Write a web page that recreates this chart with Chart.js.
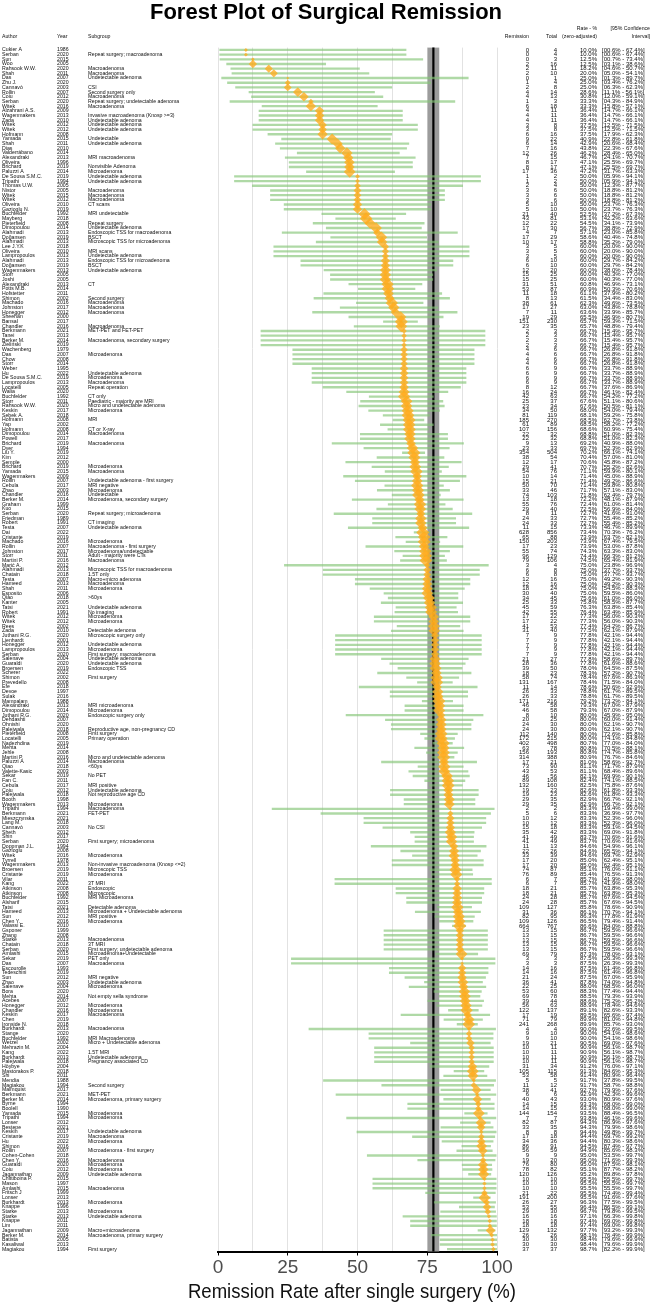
<!DOCTYPE html>
<html>
<head>
<meta charset="utf-8">
<script src="https://cdn.jsdelivr.net/npm/chart.js@4.4.0/dist/chart.umd.min.js"></script>
<style>
  html, body { margin: 0; padding: 0; background: #fff; }
  #wrap { width: 652px; height: 1305px; position: relative; }
</style>
</head>
<body>
<div id="wrap"><canvas id="forest"></canvas></div>
<script>
// ---- data, one entry per study row (top to bottom) ----
const authors = [
  'Cukier A','Serban','Sun','Woo','Rahsook W.W.','Shah','Das','Zhu J.','Cannavò','Rollin',
  'Coiu','Serban','Witek','Alzahrani A.S.','Wagenmakers','Zada','Witek','Witek','Hofmann','Yamada',
  'Shah','Dias','Valderrábano','Alexandraki','Oliveira','Brichard','Paluzzi A','De Sousa S.M.C.','Tripathi','Thomas U.W.',
  'Nistor','Witek','Witek','Oliveira','Gazioglu N.','Buchfelder','Mayberg','Pieterfield','Dimopoulou','Alahmadi',
  'Doğansen','Alahmadi','Lee J.Y.K','Oliveira','Lampropoulos','Alahmadi','Doğansen','Wagenmakers','Storr','Joshi',
  'Alexandraki','Potts M.B.','Hofstetter','Shimon','Machado','Johnston','Honegger','Sheehan','Bansal','Chandler',
  'Berkmann','Tanei','Berker M.','Zieliński','Wachenberg','Das','Chow','Storr','Weber','Hu',
  'De Sousa S.M.C.','Lampropoulos','Locatelli','Walia','Buchfelder','Storr','Rahsook W.W.','Keskin','Sebek A.','Hofmann',
  'Yap','Hofmann','Dimopoulou','Powell','Brichard','Dyer','Liu Y.','Kim','Semple','Brichard',
  'Yamada','Wagenmakers','Rollin','Cebula','Zhao','Chandler','Berker M.','Graham','Kuo','Serban',
  'Friedman','Robert','Testa','Dai','Cristante','Machado','Rollin','Johnston','Storr','Martini P.',
  'Marić A.','Alahmadi','Chatain','Testa','Hameed','Shah','Esposito','Qiao','Kanter','Tatsi',
  'Robert','Witek','Witek','Rees','Zada','Juthani R.G.','Lienhardt','Honegger','Lampropoulos','Serban',
  'Salenave','Guaraldi','Broersen','Scherer','Shimon','Prevedello','Efe','Devoe','Sulak','Mampalam',
  'Alexandraki','Dimopoulou','Juthani R.G.','Dehdashti','Ohnishi','Palejwala','Pieterfield','Locatelli','Nadezhdina','Mehta',
  'Jehle','Martini P.','Paluzzi A','Qiao','Valette-Kasic','Sekar','Fan C.','Cebula','Coiu','Palejwala',
  'Booth','Wagenmakers','Tripathi','Berkmann','Mieszczynska','Lang M.','Cannavò','Sheth','Shin','Serban',
  'Doppman J.L.','Gazioglu','Witek','Tyrrell','Wagenmakers','Broersen','Cristante','Vilar','Kang','Atkinson',
  'Atkinson','Buchfelder','Alsharif','Tatsi','Hameed','Sun','Chen Y.','Valassi E.','Gsponer','Zhang',
  'Starke','Chatain','Serban','Amlashi','Sekar','Das','Escourolle','Tedeschini','Sun','Zhao',
  'Salenave','Bora','Mehta','Acebes','Honegger','Chandler','Keskin','Chen','Ironside N.','Burkhardt',
  'Stange','Buchfelder','Wetzel','Mehrazin M.','Kang','Burkhardt','Palejwala','Höybye','Mastorakos P.','Shi',
  'Mendia','Magiakou','Malmquist','Berkmann','Berker M.','Byrne','Boolell','Yamada','Tripathi','Lonser',
  'Bestepe','Keskin','Cristante','Hu','Shimon','Rollin','Cohen-Cohen','Chen Y.','Guaraldi','Coiu',
  'Jagannathan','Chittiboina P.','Mason','Amlashi','Fritsch J','Lonser','Burkhardt','Knappe','Starke','Starke',
  'Knappe','Lim','Jagannathan','Berker M.','Batista','Kasaliwal','Magiakou'
]

const years = [
  1986,2020,2015,2005,2020,2011,2007,2020,2003,2007,
  2012,2020,2016,2009,2013,2010,2012,2012,2008,2015,
  2011,2010,2014,2013,1996,2019,2014,2019,1994,2005,
  2005,2015,2012,2010,2019,1992,2018,2008,2014,2013,
  2019,2013,2018,2010,2013,2013,2019,2013,2005,2005,
  2013,2014,2011,2002,2016,2017,2012,2000,2017,2016,
  2021,2013,2014,2019,1979,2007,2008,2014,1995,2022,
  2019,2013,2005,2020,1992,2011,2020,2017,2018,2008,
  2002,2008,2014,2017,2019,1994,2019,2012,2000,2019,
  2015,2009,2007,2017,2003,2016,2014,1999,2015,2020,
  1989,1991,2007,2022,2019,2016,2007,2017,2011,2016,
  2012,2013,2018,2007,2013,2011,2006,2018,2005,2021,
  1991,2012,2012,2002,2010,2020,2001,2012,2013,2020,
  2004,2020,2019,2022,2002,2008,2018,1997,2016,1988,
  2013,2014,2020,2007,2020,2018,2008,2005,2019,2014,
  2008,2016,2014,2018,2003,2019,2011,2017,2012,2018,
  1998,2013,1994,2021,2021,2018,2003,2012,2017,2020,
  1994,2008,2016,1978,2013,2019,2019,2011,2022,2008,
  2008,1992,2015,2021,2013,2012,2016,2010,1999,2008,
  2013,2018,2020,2015,2019,2007,1993,2019,2012,2003,
  2004,2020,2014,2007,2012,2016,2017,2019,2018,2013,
  2020,1992,2002,2004,2022,2013,2018,2004,2018,2011,
  1988,1994,2017,2021,2014,1994,1990,2015,1994,2012,
  2021,2017,2019,2022,2016,2007,2018,2016,2020,2012,
  2009,2015,1997,2015,1999,2013,2013,1996,2013,2013,
  2011,2011,2009,2014,2005,2013,1994
]

const subgroups = [
  '','Repeat surgery; macroadenoma','','','Macroadenoma','Macroadenoma','Undetectable adenoma','','CSI','Second surgery only',
  'Macroadenoma','Repeat surgery; undetectable adenoma','Macroadenoma','','Invasive macroadenoma (Knosp >=3)','Undetectable adenoma','Undetectable adenoma','Undetectable adenoma','','Undetectable',
  'Undetectable adenoma','','','MRI macroadenoma','','Nonvisible Adenoma','Microadenoma','Undetectable adenoma','Undetectable adenoma','',
  'Macroadenoma','Macroadenoma','Macroadenoma','CT scans','','MRI undetectable','','Repeat surgery','Undetectable adenoma','Endoscopic TSS for macroadenoma',
  'BSCT','Microscopic TSS for microadenoma','','MRI scans','Undetectable adenoma','Endoscopic TSS for microadenoma','BSCT','Undetectable adenoma','','',
  'CT','','','Second surgery','Macroadenoma','Macroadenoma','Macroadenoma','','','Macroadenoma',
  'MET-PET and FET-PET','','Macroadenoma, secondary surgery','','','Microadenoma','','','','Undetectable adenoma',
  'Microadenoma','Macroadenoma','Repeat operation','','CT only','Paediatric - majority are MRI','Micro and undetectable adenoma','Microadenoma','','MRI',
  '','CT or X-ray','Macroadenoma','','Macroadenoma','','','','','Microadenoma',
  'Macroadenoma','','Undetectable adenoma - first surgery','MRI negative','Microadenoma','Undetectable','Microadenoma, secondary surgery','','','Repeat surgery; microadenoma',
  '','CT imaging','Undetectable adenoma','','','Microadenoma','Macroadenoma - first surgery','Microadenoma/undetectable','Adult - majority were CTs','Macroadenoma',
  '','Microscopic TSS for macroadenoma','1.5T only','Macro+micro adenoma','Macroadenoma','Microadenoma','','>60ys','','Undetectable adenoma',
  'No imaging','Microadenoma','Microadenoma','','Detectable adenoma','Microscopic surgery only','','Undetectable adenoma','Microadenoma','First surgery; macroadenoma',
  'Undetectable adenoma','Undetectable adenoma','Endoscopic TSS','','First surgery','','','','','',
  'MRI microadenoma','Microadenoma','Endoscopic surgery only','','','Reproductive age, non-pregnancy CD','First surgery','Primary operation','','',
  '','Micro and undetectable adenoma','Macroadenoma','<60ys','','No PET','','MRI positive','Undetectable adenoma','Not reproductive age CD',
  '','Microadenoma','Macroadenoma','FET-PET','','','No CSI','','','First surgery; microadenoma',
  '','','Microadenoma','','Non-invasive macroadenoma (Knosp <=2)','Microscopic TSS','Microadenoma','','3T MRI','Endoscopic',
  'Microscopic','MRI Microadenoma','','Detectable adenoma','Microadenoma + Undetectable adenoma','MRI positive','Microadenoma','','','',
  'Macroadenoma','3T MRI','First surgery; undetectable adenoma','Microadenoma+Undetectable','PET only','Macroadenoma','','','MRI negative','Undetectable adenoma',
  'Microadenoma','','Not empty sella syndrome','','Microadenoma','Microadenoma','Macroadenoma','','','Macroadenoma',
  '','MRI Macroadenoma','Micro + Undetectable adenoma','','1.5T MRI','Undetectable adenoma','Pregnancy associated CD','','','',
  '','Second surgery','','MET-PET','Microadenoma, primary surgery','','','Microadenoma','Microadenoma','',
  '','Undetectable adenoma','Macroadenoma','Microadenoma','','Microadenoma - first surgery','','Macroadenoma','Microadenoma','Microadenoma',
  'Undetectable adenoma','','','Macroadenoma','','','Microadenoma','','Microadenoma','Undetectable adenoma',
  '','','Macro+microadenoma','Macroadenoma, primary surgery','','','First surgery'
]

const remissions = [
  0,0,0,2,2,2,0,1,2,4,
  4,1,6,4,4,4,3,3,6,9,
  6,7,12,7,8,8,17,1,1,2,
  3,3,3,5,5,21,43,12,17,4,
  17,10,3,3,3,6,6,12,15,15,
  31,53,11,8,38,17,7,19,151,23,
  2,2,2,2,4,4,4,4,6,6,
  6,6,8,16,42,25,23,34,81,185,
  61,107,22,22,9,23,354,38,12,29,
  54,10,15,50,33,74,13,55,29,8,
  24,24,11,628,65,150,17,55,96,79,
  3,6,6,12,12,18,30,34,25,45,
  42,17,17,41,31,7,7,7,7,7,
  21,28,39,18,58,131,11,26,26,171,
  46,46,8,20,24,24,112,172,402,63,
  156,314,17,73,43,46,89,132,19,19,
  29,29,2,5,10,10,15,35,41,41,
  11,22,33,17,17,74,76,6,6,18,
  18,24,24,109,31,82,109,664,13,13,
  13,13,13,69,3,3,14,14,21,36,
  22,53,69,39,56,122,17,71,241,4,
  9,9,19,10,10,10,10,31,105,53,
  5,11,38,6,40,14,14,144,7,82,
  33,8,17,34,86,56,9,19,76,78,
  120,10,10,10,21,191,26,53,29,16,
  18,18,129,26,30,30,37
]

const totals = [
  4,4,3,16,11,10,1,4,8,14,
  13,3,18,11,11,11,8,8,16,22,
  14,16,26,15,17,17,36,2,2,4,
  6,6,6,10,10,40,81,22,30,7,
  29,17,5,5,5,10,10,20,25,25,
  51,87,18,13,61,27,11,29,230,35,
  3,3,3,3,6,6,6,6,9,9,
  9,9,12,24,63,37,34,50,119,270,
  89,156,32,32,13,33,504,54,17,41,
  76,14,21,70,46,103,18,76,40,11,
  33,33,15,856,88,203,23,74,129,106,
  4,8,8,16,16,24,40,45,33,59,
  55,22,22,53,40,9,9,9,9,9,
  27,36,50,23,74,167,14,33,33,216,
  58,58,10,25,30,30,140,215,498,78,
  193,388,21,90,53,56,108,160,23,23,
  35,35,2,6,12,12,18,42,49,49,
  13,26,39,20,20,87,89,7,7,21,
  21,28,28,127,36,95,126,767,15,15,
  15,15,15,79,3,3,16,16,24,41,
  25,60,78,44,63,137,19,79,268,4,
  10,10,21,11,11,11,11,34,115,58,
  5,12,41,6,43,15,15,154,7,87,
  35,8,18,36,91,59,9,20,80,82,
  126,10,10,10,22,200,27,55,30,16,
  18,18,132,26,30,30,37
]

// rate in %, zero-adjusted where remission is 0 or all
const rates = [
  10.0,10.0,12.5,12.5,18.2,20.0,25.0,25.0,25.0,28.6,
  30.8,33.3,33.3,36.4,36.4,36.4,37.5,37.5,37.5,40.9,
  42.9,43.8,46.2,46.7,47.1,47.1,47.2,50.0,50.0,50.0,
  50.0,50.0,50.0,50.0,50.0,52.5,53.1,54.5,56.7,57.1,
  58.6,58.8,60.0,60.0,60.0,60.0,60.0,60.0,60.0,60.0,
  60.8,60.9,61.1,61.5,62.3,63.0,63.6,65.5,65.7,65.7,
  66.7,66.7,66.7,66.7,66.7,66.7,66.7,66.7,66.7,66.7,
  66.7,66.7,66.7,66.7,66.7,67.6,67.6,68.0,68.1,68.5,
  68.5,68.6,68.8,68.8,69.2,69.7,70.2,70.4,70.6,70.7,
  71.1,71.4,71.4,71.4,71.7,71.8,72.2,72.4,72.5,72.7,
  72.7,72.7,73.3,73.4,73.9,73.9,73.9,74.3,74.4,74.5,
  75.0,75.0,75.0,75.0,75.0,75.0,75.0,75.6,75.8,76.3,
  76.4,77.3,77.3,77.4,77.5,77.8,77.8,77.8,77.8,77.8,
  77.8,77.8,78.0,78.3,78.4,78.4,78.6,78.8,78.8,79.2,
  79.3,79.3,80.0,80.0,80.0,80.0,80.0,80.0,80.7,80.8,
  80.8,80.9,81.0,81.1,81.1,82.1,82.4,82.5,82.6,82.6,
  82.9,82.9,83.3,83.3,83.3,83.3,83.3,83.3,83.7,83.7,
  84.6,84.6,84.6,85.0,85.0,85.1,85.4,85.7,85.7,85.7,
  85.7,85.7,85.7,85.8,86.1,86.3,86.5,86.6,86.7,86.7,
  86.7,86.7,86.7,87.3,87.5,87.5,87.5,87.5,87.5,87.8,
  88.0,88.3,88.5,88.6,88.9,89.1,89.5,89.9,89.9,90.0,
  90.0,90.0,90.5,90.9,90.9,90.9,90.9,91.2,91.3,91.4,
  91.7,91.7,92.7,92.9,93.0,93.3,93.3,93.5,93.8,94.3,
  94.3,94.4,94.4,94.4,94.5,94.9,95.0,95.0,95.0,95.1,
  95.2,95.5,95.5,95.5,95.5,95.5,96.3,96.4,96.7,97.1,
  97.4,97.4,97.7,98.1,98.4,98.4,98.7
]

const ciLow = [
  0.6,0.6,0.7,3.1,4.6,5.0,1.3,3.4,6.3,11.1,
  12.0,4.3,15.8,14.7,14.7,14.7,12.5,12.5,17.9,22.8,
  20.6,22.3,28.4,24.1,25.5,25.5,31.7,5.9,5.9,12.3,
  18.8,18.8,18.8,23.7,23.7,37.2,42.2,34.1,38.8,23.0,
  40.4,35.2,20.0,20.0,20.0,29.7,29.7,38.0,40.3,40.3,
  46.9,50.3,37.9,34.4,49.6,43.8,33.9,46.9,59.3,48.8,
  15.4,15.4,15.4,15.4,26.8,26.8,26.8,26.8,33.7,33.7,
  33.7,33.7,37.6,46.1,54.2,51.1,50.5,54.0,59.2,62.7,
  58.2,60.9,51.0,51.0,40.9,52.3,66.1,57.0,45.8,55.2,
  59.9,45.0,49.2,59.8,57.1,62.4,48.1,61.0,56.9,41.6,
  55.4,55.4,46.7,70.3,63.7,67.4,53.0,63.3,66.3,65.4,
  23.8,37.7,37.7,49.2,49.2,54.5,59.5,61.0,58.5,63.8,
  63.4,56.0,56.0,64.2,62.1,42.1,42.1,42.1,42.1,42.1,
  58.6,61.6,64.5,57.2,67.6,71.5,50.6,61.7,61.7,73.2,
  67.0,67.0,45.9,60.0,62.1,62.1,72.6,74.1,77.0,70.5,
  74.7,76.7,58.6,71.7,68.4,69.9,74.1,75.8,61.8,61.8,
  66.7,66.7,19.4,36.9,52.3,52.3,59.1,69.0,70.6,70.6,
  54.9,65.5,69.7,62.4,62.4,76.0,76.5,41.9,41.9,63.8,
  63.8,67.6,67.6,78.6,70.7,77.8,79.4,84.0,59.5,59.5,
  59.5,59.5,59.5,78.0,26.3,26.3,61.4,61.4,67.0,74.0,
  68.5,77.4,79.3,75.2,78.4,82.6,65.6,81.0,85.7,32.6,
  54.1,54.1,69.0,56.1,56.1,56.1,56.1,76.0,84.6,80.9,
  37.8,58.7,79.9,42.3,80.9,68.0,68.0,88.4,46.1,86.9,
  79.9,49.8,69.7,80.3,87.4,85.6,53.5,71.6,87.5,87.7,
  89.8,55.5,55.5,55.5,74.4,91.6,77.5,86.5,79.8,66.3,
  69.0,69.0,93.2,76.4,79.6,79.6,82.2
]

const ciHigh = [
  67.4,67.4,73.4,38.6,50.7,54.1,89.7,76.2,62.3,56.1,
  59.1,84.9,57.1,66.1,66.1,66.1,71.5,71.5,62.3,61.8,
  68.4,67.6,65.0,70.7,69.7,69.7,63.3,94.1,94.1,87.7,
  81.2,81.2,81.2,76.3,76.3,67.3,63.6,73.9,72.9,85.8,
  74.8,79.0,90.0,90.0,90.0,84.2,84.2,78.4,77.0,77.0,
  73.1,70.6,80.2,83.0,73.5,78.8,85.7,80.7,71.5,79.4,
  95.7,95.7,95.7,95.7,91.8,91.8,91.8,91.8,88.9,88.9,
  88.9,88.9,86.9,82.4,77.2,80.6,81.1,79.4,75.8,73.8,
  77.2,75.4,82.3,82.3,88.0,82.9,74.1,81.0,87.2,82.6,
  80.1,88.9,86.6,80.8,83.0,79.7,87.9,81.4,84.0,91.0,
  85.2,85.2,89.9,76.2,82.1,79.5,87.8,83.0,81.2,81.9,
  96.9,93.7,93.7,90.3,90.3,88.3,86.0,86.0,87.7,85.4,
  85.9,90.3,90.3,86.7,87.9,94.4,94.4,94.4,94.4,94.4,
  89.7,88.6,87.5,90.7,86.3,84.0,92.9,89.5,89.5,84.1,
  87.9,87.9,95.0,91.4,90.7,90.7,85.8,84.8,84.0,88.1,
  85.8,84.6,92.7,87.9,89.6,90.1,88.5,87.6,93.3,93.3,
  92.1,92.1,99.0,97.7,96.0,96.0,94.5,91.8,91.6,91.6,
  96.1,94.1,92.9,95.1,95.1,91.1,91.3,98.0,98.0,95.3,
  95.3,94.5,94.5,90.9,94.1,91.9,91.4,88.8,96.6,96.6,
  96.6,96.6,96.6,93.1,99.3,99.3,96.8,96.8,95.9,94.8,
  96.0,94.4,93.9,95.2,94.6,93.3,97.4,94.8,93.0,99.5,
  98.6,98.6,97.6,98.7,98.7,98.7,98.7,97.1,95.3,96.4,
  99.5,98.8,97.6,99.6,97.6,99.0,99.0,96.5,99.6,97.6,
  98.6,99.7,99.2,98.6,97.7,98.3,99.7,99.3,98.1,98.2,
  97.8,99.7,99.7,99.7,99.4,97.6,99.5,99.1,99.5,99.8,
  99.8,99.8,99.3,99.9,99.9,99.9,99.9
]

// pooled estimate and its interval
const pooledRate = 77.2
const pooledLow = 75.1
const pooledHigh = 79.3

const xTicks = [0, 25, 50, 75, 100]

// ---- drawing ----
const family = '"Liberation Sans", Arial, Helvetica, sans-serif'
const leftFont = '5.2px ' + family
const rightFont = '6px ' + family
const headFont = '5.2px ' + family
const col = { author: 2, year: 57, subgroup: 88, remission: 529, total: 557, rate: 597, ci: 602, ciRight: 650 }

function pct(v) {
  return v.toFixed(1).padStart(4, '0') + '%'
}

const pooledBand = {
  id: 'pooledBand',
  beforeDatasetsDraw(chart) {
    const { ctx, chartArea, scales: { x } } = chart
    const x0 = x.getPixelForValue(pooledLow)
    const x1 = x.getPixelForValue(pooledHigh)
    const xm = x.getPixelForValue(pooledRate)
    ctx.save()
    ctx.fillStyle = '#9c9c9c'
    ctx.fillRect(x0, chartArea.top, x1 - x0, chartArea.bottom - chartArea.top)
    ctx.strokeStyle = '#000'
    ctx.lineWidth = 2.2
    ctx.beginPath()
    ctx.moveTo(xm, chartArea.top)
    ctx.lineTo(xm, chartArea.bottom)
    ctx.stroke()
    ctx.restore()
  }
}

const tableText = {
  id: 'tableText',
  afterDraw(chart) {
    const { ctx, width, scales: { x, y } } = chart
    ctx.save()
    ctx.fillStyle = '#000'
    ctx.textBaseline = 'middle'

    // title, centred on the page
    ctx.font = 'bold 22px ' + family
    ctx.textAlign = 'center'
    ctx.fillText('Forest Plot of Surgical Remission', width / 2, 13)

    // x axis title (wider than the plot, so drawn here instead of scale title)
    ctx.font = '21px ' + family
    ctx.fillStyle = '#111'
    ctx.fillText('Remission Rate after single surgery (%)', x.getPixelForValue(48), 1292, 328)

    // column headers
    ctx.font = headFont
    ctx.textAlign = 'left'
    ctx.fillText('Author', col.author, 37)
    ctx.fillText('Year', col.year, 37)
    ctx.fillText('Subgroup', col.subgroup, 37)
    ctx.textAlign = 'right'
    ctx.fillText('Remission', col.remission, 37)
    ctx.fillText('Total', col.total, 37)
    ctx.fillText('Rate - %', col.rate, 28.5)
    ctx.fillText('(zero-adjusted)', col.rate, 37)
    ctx.fillText('[95% Confidence', col.ciRight, 28.5)
    ctx.fillText('Interval]', col.ciRight, 37)

    // one text line per study
    authors.forEach((a, i) => {
      const py = y.getPixelForValue(i)
      ctx.font = leftFont
      ctx.textAlign = 'left'
      ctx.fillText(a, col.author, py)
      ctx.fillText(String(years[i]), col.year, py)
      if (subgroups[i]) ctx.fillText(subgroups[i], col.subgroup, py)
      ctx.font = rightFont
      ctx.textAlign = 'right'
      ctx.fillText(String(remissions[i]), col.remission, py)
      ctx.fillText(String(totals[i]), col.total, py)
      ctx.fillText(rates[i].toFixed(1) + '%', col.rate, py)
      ctx.textAlign = 'left'
      ctx.fillText('[' + pct(ciLow[i]) + ' - ' + pct(ciHigh[i]) + ']', col.ci, py)
    })
    ctx.restore()
  }
}

// diamond size follows study weight (bigger n, rate away from the edges -> bigger)
function diamondRadius(c) {
  const i = c.dataIndex
  const p = rates[i] / 100
  const w = totals[i] * p * (1 - p)
  return 0.6 + 6.0 * w / (w + 1.2)
}

new Chart(document.getElementById('forest'), {
  type: 'bar',
  data: {
    labels: authors.map((a, i) => 'row' + i),
    datasets: [
      {
        type: 'line',
        label: 'Rate',
        data: rates,
        indexAxis: 'y',
        showLine: false,
        pointStyle: 'rectRot',
        pointRadius: diamondRadius,
        backgroundColor: 'rgba(255,172,30,0.78)',
        borderWidth: 0,
        clip: false
      },
      {
        type: 'bar',
        label: '95% CI',
        data: ciLow.map((lo, i) => [lo, ciHigh[i]]),
        backgroundColor: 'rgba(132,196,118,0.65)',
        borderWidth: 0,
        barThickness: 1.7
      }
    ]
  },
  options: {
    indexAxis: 'y',
    responsive: true,
    maintainAspectRatio: false,
    animation: false,
    events: [],
    // bottom padding leaves room for the axis title drawn by the plugin
    layout: { padding: { left: 218, right: 155, top: 47.6, bottom: 24.5 } },
    plugins: { legend: { display: false }, tooltip: { enabled: false } },
    scales: {
      y: { type: 'category', display: false, offset: true, grid: { display: false } },
      x: {
        type: 'linear',
        min: 0,
        max: 100,
        ticks: {
          stepSize: 12.5,
          autoSkip: false,
          maxRotation: 0,
          padding: 3,
          color: '#4d4d4d',
          font: { family: family, size: 19, lineHeight: 1 },
          callback: v => xTicks.includes(v) ? String(v) : ''
        },
        grid: {
          color: '#e2e2e2',
          lineWidth: 1,
          tickLength: 4,
          tickColor: c => xTicks.includes(c.tick.value) ? '#000' : 'rgba(0,0,0,0)'
        },
        border: { color: '#000', width: 2 },
        title: { display: false }
      }
    }
  },
  plugins: [pooledBand, tableText]
})
</script>
</body>
</html>
